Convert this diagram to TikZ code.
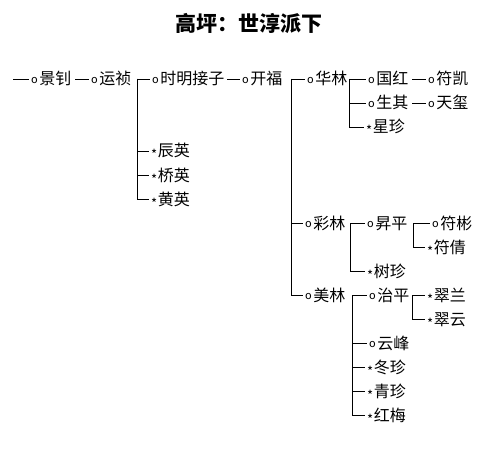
\documentclass[tikz,border=0pt]{standalone}
\usepackage{fontspec}
\newfontfamily\cjk{Noto Sans CJK SC}
\newcommand\ocir{\raisebox{1.5pt}{\fontsize{11}{11}\selectfont o}\hspace{1.5pt}}
\newcommand\astr{\raisebox{-3pt}{\fontsize{13}{13}\selectfont *}\hspace{0.5pt}}
\tikzset{
  nm/.style={anchor=west, inner sep=0pt, text height=14pt, text depth=2pt,
             font=\cjk\fontsize{16}{16}\selectfont},
  pw/.style={nm, text width=#1, align=left},
  ln/.style={draw, line width=0.9pt, shorten >=2pt},
  ttl/.style={font=\cjk\bfseries\fontsize{21}{21}\selectfont, inner sep=0pt},
}
\begin{document}
\begin{tikzpicture}[x=1pt, y=-1pt]
\useasboundingbox (0,0) rectangle (497,449);
\fill[white] (0,0) rectangle (497,449);

\node[ttl] (title) at (249,23) {高坪：世淳派下};

% nodes
\node[pw=44] (jz) at (31,79) {\ocir 景钊};
\node[pw=46] (yz) at (91,79) {\ocir 运祯};
\node[pw=75] (sm) at (152,79) {\ocir 时明接子};
\node[pw=49] (kf) at (242,79) {\ocir 开福};
\node[pw=42] (hl) at (307,79) {\ocir 华林};
\node[pw=44] (gh) at (368,79) {\ocir 国红};
\node[nm] (fk) at (428,79) {\ocir 符凯};
\node[pw=44] (sq) at (368,103) {\ocir 生其};
\node[nm] (tx) at (428,103) {\ocir 天玺};
\node[nm] (xz) at (366,127) {\astr 星珍};
\node[nm] (cy) at (151,151) {\astr 辰英};
\node[nm] (qy) at (151,175) {\astr 桥英};
\node[nm] (hy) at (151,199) {\astr 黄英};
\node[pw=45] (cl) at (305,223) {\ocir 彩林};
\node[pw=46] (sp) at (367,223) {\ocir 昇平};
\node[nm] (fb) at (432,223) {\ocir 符彬};
\node[nm] (fq) at (427,247) {\astr 符倩};
\node[nm] (sz) at (367,271) {\astr 树珍};
\node[pw=47] (ml) at (305,295) {\ocir 美林};
\node[pw=43] (zp) at (369,295) {\ocir 治平};
\node[nm] (cla) at (427,295) {\astr 翠兰};
\node[nm] (cyu) at (427,319) {\astr 翠云};
\node[nm] (yf) at (369,343) {\ocir 云峰};
\node[nm] (dz) at (367,367) {\astr 冬珍};
\node[nm] (qz) at (367,391) {\astr 青珍};
\node[nm] (hm) at (367,415) {\astr 红梅};

\coordinate (s0) at (13,79);

% connectors
\draw[ln] (s0) -- (jz.west);
\draw[ln] (jz.east) -- (yz.west);
\draw[ln] (yz.east) -- (sm.west);
\draw[ln] (yz.east) |- (cy.west);
\draw[ln] (yz.east) |- (qy.west);
\draw[ln] (yz.east) |- (hy.west);
\draw[ln] (sm.east) -- (kf.west);
\draw[ln] (kf.east) -- (hl.west);
\draw[ln] (kf.east) |- (cl.west);
\draw[ln] (kf.east) |- (ml.west);
\draw[ln] (hl.east) -- (gh.west);
\draw[ln] (hl.east) |- (sq.west);
\draw[ln] (hl.east) |- (xz.west);
\draw[ln] (gh.east) -- (fk.west);
\draw[ln] (sq.east) -- (tx.west);
\draw[ln] (cl.east) -- (sp.west);
\draw[ln] (cl.east) |- (sz.west);
\draw[ln] (sp.east) -- (fb.west);
\draw[ln] (sp.east) |- (fq.west);
\draw[ln] (ml.east) -- (zp.west);
\draw[ln] (ml.east) |- (yf.west);
\draw[ln] (ml.east) |- (dz.west);
\draw[ln] (ml.east) |- (qz.west);
\draw[ln] (ml.east) |- (hm.west);
\draw[ln] (zp.east) -- (cla.west);
\draw[ln] (zp.east) |- (cyu.west);
\end{tikzpicture}
\end{document}
